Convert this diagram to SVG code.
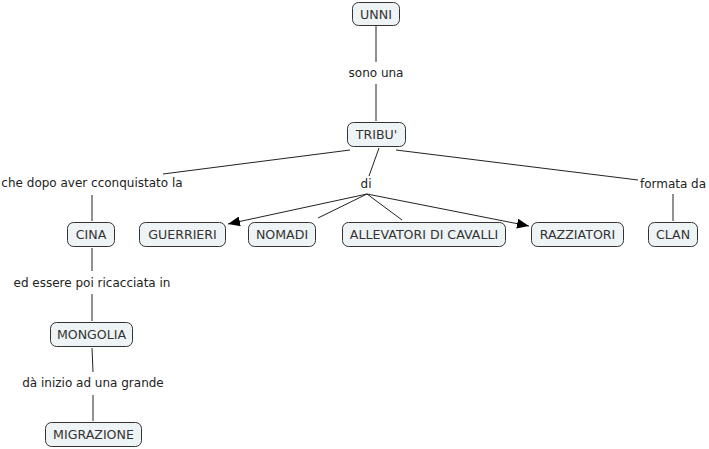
<svg xmlns="http://www.w3.org/2000/svg" width="709" height="449" viewBox="0 0 709 449">
<style>
.node rect{fill:#eef3f6;stroke:#333;stroke-width:1}
text{font-family:"DejaVu Sans",Verdana,sans-serif;font-size:12px;fill:#222;text-anchor:middle}
.node text{font-size:12.6px;fill:#333}
.conn line{stroke:#222;stroke-width:1;fill:none}
</style>
<defs>
<marker id="arr" viewBox="0 0 12 10" refX="12" refY="5" markerWidth="12" markerHeight="10" markerUnits="userSpaceOnUse" orient="auto">
<path d="M0,0 L12,5 L0,10 z" fill="#000"/>
</marker>
</defs>
<rect width="709" height="449" fill="#fff"/>
<g id="connectors" class="conn">
<line x1="376" y1="26" x2="376" y2="62"/>
<line x1="376" y1="84" x2="376" y2="121"/>
<line x1="350" y1="150" x2="163" y2="174"/>
<line x1="92" y1="195" x2="92" y2="221"/>
<line x1="92" y1="248" x2="92" y2="271"/>
<line x1="92" y1="294" x2="92" y2="321"/>
<line x1="92" y1="348" x2="93" y2="372"/>
<line x1="93" y1="395" x2="93" y2="421"/>
<line x1="379" y1="148" x2="369" y2="176"/>
<line x1="367" y1="194" x2="228" y2="224" marker-end="url(#arr)"/>
<line x1="367" y1="194" x2="318" y2="218"/>
<line x1="367" y1="194" x2="402" y2="220"/>
<line x1="367" y1="194" x2="529" y2="226" marker-end="url(#arr)"/>
<line x1="396" y1="150" x2="638" y2="180"/>
<line x1="673" y1="194" x2="673" y2="221"/>
</g>
<g id="link-labels">
<text x="376" y="77">sono una</text>
<text x="92" y="187">che dopo aver cconquistato la</text>
<text x="366" y="188">di</text>
<text x="673" y="188">formata da</text>
<text x="92" y="287">ed essere poi ricacciata in</text>
<text x="93" y="387">dà inizio ad una grande</text>
</g>
<g id="UNNI" class="node"><rect x="352.5" y="2.5" width="47" height="23" rx="6"/><text x="376" y="18.5">UNNI</text></g>
<g id="TRIBU" class="node"><rect x="347.5" y="122.5" width="58" height="24" rx="6"/><text x="376.5" y="139">TRIBU'</text></g>
<g id="CINA" class="node"><rect x="67.5" y="222.5" width="47" height="24" rx="6"/><text x="91" y="239">CINA</text></g>
<g id="GUERRIERI" class="node"><rect x="139.5" y="222.5" width="86" height="24" rx="6"/><text x="182.5" y="239">GUERRIERI</text></g>
<g id="NOMADI" class="node"><rect x="248.5" y="222.5" width="67" height="24" rx="6"/><text x="282" y="239">NOMADI</text></g>
<g id="ALLEVATORI" class="node"><rect x="342.5" y="222.5" width="163" height="24" rx="6"/><text x="424" y="239">ALLEVATORI DI CAVALLI</text></g>
<g id="RAZZIATORI" class="node"><rect x="531.5" y="222.5" width="92" height="24" rx="6"/><text x="577.5" y="239">RAZZIATORI</text></g>
<g id="CLAN" class="node"><rect x="648.5" y="222.5" width="49" height="24" rx="6"/><text x="673" y="239">CLAN</text></g>
<g id="MONGOLIA" class="node"><rect x="50.5" y="322.5" width="82" height="24" rx="6"/><text x="91.5" y="339">MONGOLIA</text></g>
<g id="MIGRAZIONE" class="node"><rect x="45.5" y="422.5" width="96" height="24" rx="6"/><text x="93.5" y="439">MIGRAZIONE</text></g>
</svg>
